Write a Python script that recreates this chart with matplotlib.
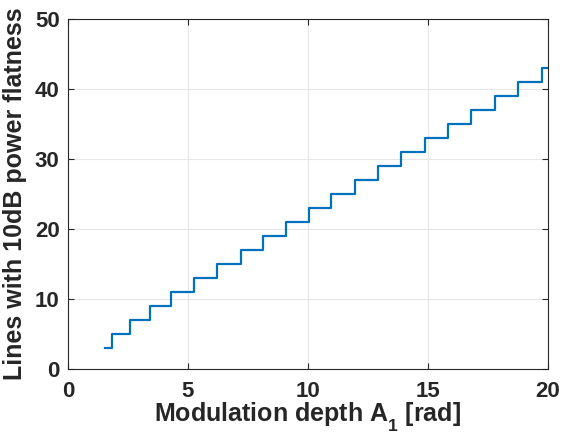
import numpy as np
import matplotlib
matplotlib.use("Agg")
import matplotlib.pyplot as plt
import matplotlib._mathtext as mt

# step edges (rad) and line counts per step
depth_edges = [1.53, 1.85, 2.60, 3.40, 4.31, 5.26, 6.21, 7.19, 8.14, 9.07, 10.03,
               10.97, 11.95, 12.90, 13.89, 14.86, 15.84, 16.81, 17.78, 18.77, 19.75, 20.0]
n_lines = [3, 5, 7, 9, 11, 13, 15, 17, 19, 21, 23, 25, 27, 29, 31, 33, 35, 37, 39, 41, 43, 43]

plt.rcParams["font.family"] = ["Liberation Sans", "DejaVu Sans"]
plt.rcParams["font.weight"] = "bold"
plt.rcParams["mathtext.fontset"] = "custom"
plt.rcParams["mathtext.rm"] = "Liberation Sans:bold"
plt.rcParams["mathtext.it"] = "Liberation Sans:bold"
plt.rcParams["mathtext.bf"] = "Liberation Sans:bold"
plt.rcParams["mathtext.default"] = "rm"

# deeper subscript, like the original
mt.FontConstantsBase.sub1 = 0.75
mt.FontConstantsBase.sub2 = 0.85

dark = "#262626"
fig = plt.figure(figsize=(5.62, 4.46), dpi=100)
ax = fig.add_axes([0.121, 0.173, 0.854, 0.784])

ax.step(depth_edges, n_lines, where="post", color="#0072BD", linewidth=1.6)

ax.set_xlim(0, 20)
ax.set_ylim(0, 50)
ax.set_xticks([0, 5, 10, 15, 20])
ax.set_yticks([0, 10, 20, 30, 40, 50])
ax.grid(True, color="#e6e6e6", linewidth=0.8)
ax.set_axisbelow(True)

ax.tick_params(direction="in", top=True, right=True, length=4, width=0.8,
               colors=dark, labelsize=16, pad=6)
ax.tick_params(axis="x", pad=9)
for s in ax.spines.values():
    s.set_color(dark)
    s.set_linewidth(0.8)

ax.set_xlabel("Modulation depth A$_{1}$ [rad]", fontsize=18, fontweight="bold",
              color=dark, labelpad=-1)
ax.set_ylabel("Lines with 10dB power flatness", fontsize=18, fontweight="bold",
              color=dark, labelpad=6)

fig.savefig("out.png", dpi=100)
plt.close(fig)
